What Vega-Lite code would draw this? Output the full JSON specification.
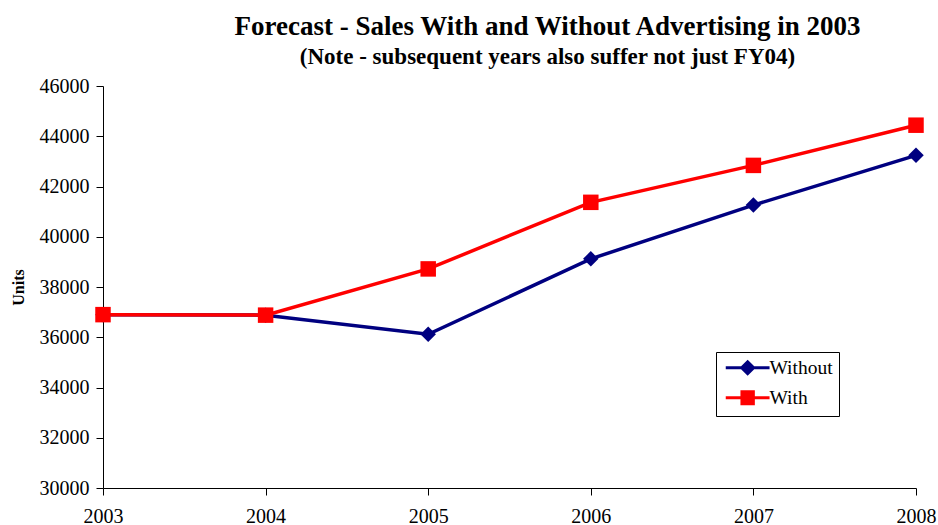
{
  "$schema": "https://vega.github.io/schema/vega-lite/v6.json",
  "autosize": "none",
  "width": 813,
  "height": 402,
  "padding": {"left": 103, "top": 86, "right": 22, "bottom": 37},
  "background": "white",
  "config": {"view": {"stroke": null}, "font": "Liberation Serif"},
  "title": {
    "text": "Forecast - Sales With and Without Advertising in 2003",
    "subtitle": "(Note - subsequent years also suffer not just FY04)",
    "anchor": "middle",
    "frame": "group",
    "dx": 38,
    "font": "Liberation Serif",
    "fontSize": 27,
    "fontWeight": "bold",
    "color": "black",
    "subtitleFont": "Liberation Serif",
    "subtitleFontSize": 23,
    "subtitleFontWeight": "bold",
    "subtitleColor": "black",
    "subtitlePadding": 5,
    "offset": 6
  },
  "data": {
    "values": [
      {"year": 2003, "series": "Without", "units": 36900},
      {"year": 2004, "series": "Without", "units": 36880},
      {"year": 2005, "series": "Without", "units": 36120},
      {"year": 2006, "series": "Without", "units": 39120},
      {"year": 2007, "series": "Without", "units": 41260},
      {"year": 2008, "series": "Without", "units": 43240},
      {"year": 2003, "series": "With", "units": 36900},
      {"year": 2004, "series": "With", "units": 36880},
      {"year": 2005, "series": "With", "units": 38720},
      {"year": 2006, "series": "With", "units": 41370},
      {"year": 2007, "series": "With", "units": 42840},
      {"year": 2008, "series": "With", "units": 44440}
    ]
  },
  "encoding": {
    "x": {
      "field": "year",
      "type": "quantitative",
      "scale": {"domain": [2003, 2008], "nice": false, "zero": false},
      "axis": {
        "values": [2003, 2004, 2005, 2006, 2007, 2008],
        "format": "d",
        "title": null,
        "grid": false,
        "domainColor": "black",
        "tickColor": "black",
        "tickSize": 7,
        "labelFont": "Liberation Serif",
        "labelFontSize": 20,
        "labelColor": "black",
        "labelPadding": 11,
        "labelFlush": false,
        "labelOverlap": false
      }
    },
    "y": {
      "field": "units",
      "type": "quantitative",
      "scale": {"domain": [30000, 46000], "nice": false, "zero": false},
      "axis": {
        "values": [30000, 32000, 34000, 36000, 38000, 40000, 42000, 44000, 46000],
        "format": "d",
        "title": "Units",
        "titleFont": "Liberation Serif",
        "titleFontSize": 16,
        "titleFontWeight": "bold",
        "titleColor": "black",
        "titlePadding": 13,
        "grid": false,
        "domainColor": "black",
        "tickColor": "black",
        "tickSize": 7,
        "labelFont": "Liberation Serif",
        "labelFontSize": 20,
        "labelColor": "black",
        "labelPadding": 7
      }
    },
    "color": {
      "field": "series",
      "type": "nominal",
      "scale": {"domain": ["Without", "With"], "range": ["#000080", "#FF0000"]},
      "legend": {
        "title": null,
        "orient": "none",
        "legendX": 613,
        "legendY": 266,
        "strokeColor": "black",
        "fillColor": "white",
        "padding": 6,
        "labelFont": "Liberation Serif",
        "labelFontSize": 19.5,
        "labelColor": "black",
        "labelOffset": 28,
        "rowPadding": 5,
        "symbolSize": 144,
        "symbolStrokeWidth": 3,
        "encode": {
          "symbols": {
            "update": {
              "shape": {"signal": "datum.value === 'Without' ? 'M-1,0H6.3M1.65,0L2.65,-1L3.65,0L2.65,1Z' : 'M-1,0H6.3M1.7,-1H3.6V1H1.7Z'"},
              "fill": {"signal": "datum.value === 'Without' ? '#000080' : '#FF0000'"},
              "stroke": {"signal": "datum.value === 'Without' ? '#000080' : '#FF0000'"},
              "strokeWidth": {"value": 3},
              "size": {"value": 144},
              "opacity": {"value": 1}
            }
          }
        }
      }
    }
  },
  "layer": [
    {"mark": {"type": "line", "strokeWidth": 3.5}},
    {
      "transform": [{"filter": "datum.series === 'Without'"}],
      "mark": {"type": "point", "shape": "diamond", "filled": true, "opacity": 1, "size": 240}
    },
    {
      "transform": [{"filter": "datum.series === 'With'"}],
      "mark": {"type": "point", "shape": "square", "filled": true, "opacity": 1, "size": 240}
    }
  ]
}
